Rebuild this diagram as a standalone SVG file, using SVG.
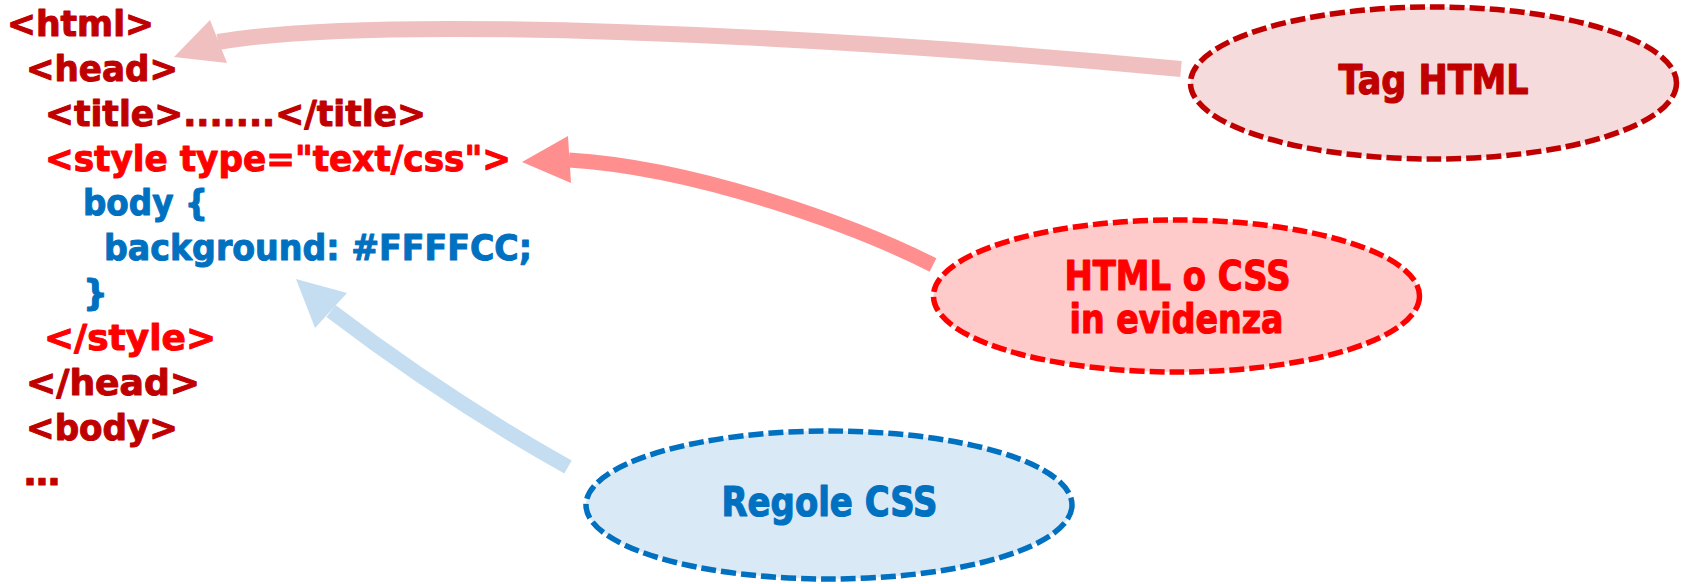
<svg xmlns="http://www.w3.org/2000/svg" width="1685" height="584" viewBox="0 0 1685 584">
  <style>
    text { font-family: "DejaVu Sans", "Verdana", sans-serif; font-weight: bold; stroke-linejoin: round; }
    .code { font-size: 35px; stroke-width: 1; }
    .tag { fill: #C00000; stroke: #C00000; }
    .hl { fill: #FF0000; stroke: #FF0000; }
    .css { fill: #0070C0; stroke: #0070C0; }
    .label { font-size: 40px; text-anchor: middle; stroke-width: 1.2; }
    .shaft { fill: none; stroke-linecap: butt; }
    .node { stroke-width: 5.5; stroke-dasharray: 15 5; }
  </style>
  <rect width="1685" height="584" fill="#FFFFFF"/>

  <!-- HTML source listing -->
  <g id="code">
    <text class="code tag" x="7" y="36" textLength="147" lengthAdjust="spacingAndGlyphs">&lt;html&gt;</text>
    <text class="code tag" x="26" y="81" textLength="152" lengthAdjust="spacingAndGlyphs">&lt;head&gt;</text>
    <text class="code tag" x="45" y="126" textLength="381" lengthAdjust="spacingAndGlyphs">&lt;title&gt;.......&lt;/title&gt;</text>
    <text class="code hl" x="45" y="171" textLength="466" lengthAdjust="spacingAndGlyphs">&lt;style type="text/css"&gt;</text>
    <text class="code css" x="83" y="215" textLength="125" lengthAdjust="spacingAndGlyphs">body {</text>
    <text class="code css" x="104" y="260" textLength="428" lengthAdjust="spacingAndGlyphs">background: #FFFFCC;</text>
    <text class="code css" x="83" y="305">}</text>
    <text class="code hl" x="44" y="350" textLength="172" lengthAdjust="spacingAndGlyphs">&lt;/style&gt;</text>
    <text class="code tag" x="26" y="395" textLength="174" lengthAdjust="spacingAndGlyphs">&lt;/head&gt;</text>
    <text class="code tag" x="26" y="440" textLength="152" lengthAdjust="spacingAndGlyphs">&lt;body&gt;</text>
    <text class="code tag" x="24" y="484.5" textLength="36" lengthAdjust="spacingAndGlyphs">…</text>
  </g>

  <!-- curved callout arrows -->
  <g id="connectors">
    <path class="shaft" d="M1181,69 C820,35 380,14 218,42" stroke="#F0C0C0" stroke-width="16"/>
    <polygon points="174,57 210,20 227,63" fill="#F0C0C0"/>

    <path class="shaft" d="M933,265 C860,228 700,168 569,160" stroke="#FF8F8F" stroke-width="15"/>
    <polygon points="522,162 568,136 571,183" fill="#FF8F8F"/>

    <path class="shaft" d="M568,467 Q445,398 331,311" stroke="#C5DDF0" stroke-width="15"/>
    <polygon points="296,279 347,293 315,328" fill="#C5DDF0"/>
  </g>

  <g id="node-tag-html">
    <ellipse class="node" cx="1433.5" cy="83" rx="243" ry="76" fill="#F5DBDB" stroke="#C00000"/>
    <text class="label tag" x="1433.5" y="94" textLength="190" lengthAdjust="spacingAndGlyphs">Tag HTML</text>
  </g>

  <g id="node-html-css">
    <ellipse class="node" cx="1176.5" cy="296" rx="243" ry="76" fill="#FFCACA" stroke="#FF0000"/>
    <text class="label hl" x="1177.5" y="290" textLength="226" lengthAdjust="spacingAndGlyphs">HTML o CSS</text>
    <text class="label hl" x="1176.5" y="333" textLength="214" lengthAdjust="spacingAndGlyphs">in evidenza</text>
  </g>

  <g id="node-regole-css">
    <ellipse class="node" cx="829" cy="505" rx="243" ry="74" fill="#D9E9F5" stroke="#0070C0"/>
    <text class="label css" x="829.5" y="515.5" textLength="216" lengthAdjust="spacingAndGlyphs">Regole CSS</text>
  </g>
</svg>
